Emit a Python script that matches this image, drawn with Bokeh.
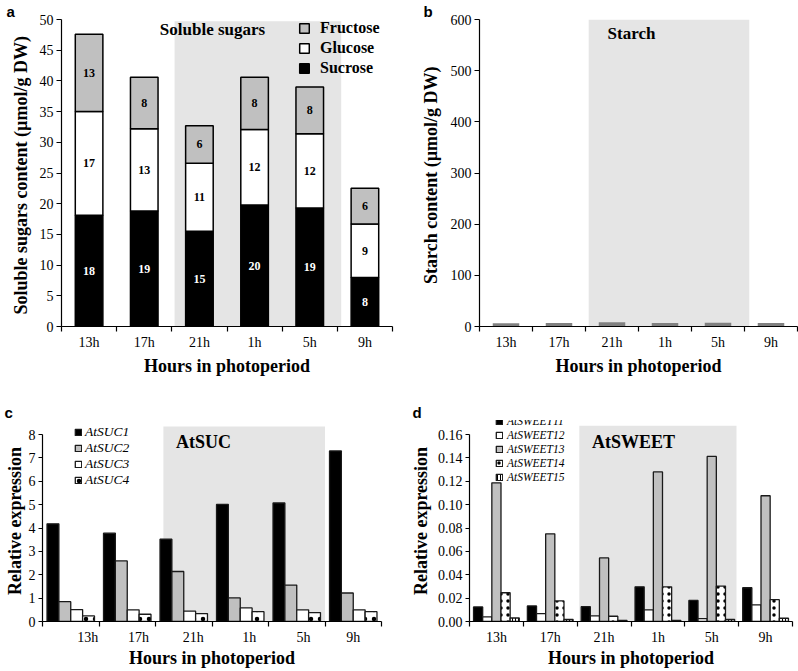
import numpy as np
from bokeh.plotting import figure
from bokeh.models import (ColumnDataSource, FixedTicker, Legend, LegendItem, Label,
                          BoxAnnotation, NumeralTickFormatter, SingleIntervalTicker, Range1d)
from bokeh.layouts import column, row
from bokeh.embed import file_html
from bokeh.resources import INLINE
from bokeh.core.properties import value

# ---------------- data ----------------
hours = ["13h", "17h", "21h", "1h", "5h", "9h"]
dark_first, dark_last = "21h", "5h"

sugar_names = ["Sucrose", "Glucose", "Fructose"]
sucrose = [18.1, 18.8, 15.5, 19.8, 19.3, 8.0]
glucose = [16.9, 13.4, 11.1, 12.3, 12.1, 8.7]
fructose = [12.6, 8.4, 6.1, 8.5, 7.6, 5.8]
sucrose_lbl = ["18", "19", "15", "20", "19", "8"]
glucose_lbl = ["17", "13", "11", "12", "12", "9"]
fructose_lbl = ["13", "8", "6", "8", "8", "6"]

starch = [6.5, 6.8, 8.4, 7.0, 7.5, 6.6]

suc_names = ["AtSUC1", "AtSUC2", "AtSUC3", "AtSUC4"]
suc1 = [4.18, 3.78, 3.52, 5.01, 5.07, 7.30]
suc2 = [0.85, 2.59, 2.14, 1.01, 1.56, 1.22]
suc3 = [0.51, 0.50, 0.44, 0.58, 0.50, 0.50]
suc4 = [0.24, 0.31, 0.34, 0.42, 0.38, 0.42]

sweet_names = ["AtSWEET11", "AtSWEET12", "AtSWEET13", "AtSWEET14", "AtSWEET15"]
sweet11 = [0.0125, 0.0133, 0.0127, 0.0297, 0.0180, 0.0289]
sweet12 = [0.0040, 0.0068, 0.0048, 0.0099, 0.0025, 0.0142]
sweet13 = [0.1187, 0.0750, 0.0544, 0.1280, 0.1413, 0.1076]
sweet14 = [0.0246, 0.0176, 0.0045, 0.0297, 0.0303, 0.0187]
sweet15 = [0.0030, 0.0017, 0.0010, 0.0010, 0.0017, 0.0028]

# ---------------- style ----------------
SERIF = "Liberation Serif"
SANS = "Liberation Sans"
GRAY = "#c0c0c0"
SHADE = "#e5e5e5"
N = len(hours)
centers = [i + 0.5 for i in range(N)]
i0 = hours.index(dark_first)
i1 = hours.index(dark_last) + 1


def make_fig(w, h, ymax, mbl, mbr, mbt, mbb, letter, letter_off):
    p = figure(width=w, height=h, x_range=Range1d(0, N), y_range=Range1d(0, ymax),
               output_backend="svg", toolbar_location=None,
               min_border_left=mbl, min_border_right=mbr, min_border_top=mbt,
               min_border_bottom=mbb)
    p.outline_line_color = None
    p.xgrid.visible = False
    p.ygrid.visible = False
    # panel letter drawn as the figure title (outside the data frame)
    p.title.text = letter
    p.title.align = "left"
    p.title.offset = letter_off
    p.title.standoff = 0
    p.title.text_font = SANS
    p.title.text_font_style = "bold"
    p.title.text_font_size = "15px"
    p.title.text_color = "black"
    return p


def style_axes(p, ytitle, yint, ybounds, label_pos, yfmt=None, ylab_standoff=3,
               ytitle_standoff=6, ytick_out=5, xlab_standoff=3, xtitle_standoff=3):
    xa = p.xaxis[0]
    ya = p.yaxis[0]
    xa.ticker = FixedTicker(ticks=label_pos, minor_ticks=list(range(N + 1)))
    xa.major_label_overrides = dict(zip(label_pos, hours))
    xa.major_tick_out = 0
    xa.major_tick_in = 0
    xa.minor_tick_out = 5
    xa.minor_tick_in = 0
    xa.minor_tick_line_color = "black"
    xa.minor_tick_line_width = 1.2
    xa.axis_label = "Hours in photoperiod"
    xa.major_label_standoff = xlab_standoff
    xa.axis_label_standoff = xtitle_standoff
    ya.ticker = SingleIntervalTicker(interval=yint, num_minor_ticks=0)
    ya.bounds = ybounds
    if yfmt:
        ya.formatter = NumeralTickFormatter(format=yfmt)
    ya.major_tick_out = ytick_out
    ya.major_tick_in = 0
    ya.minor_tick_out = 0
    ya.minor_tick_in = 0
    ya.axis_label = ytitle
    ya.major_label_standoff = ylab_standoff
    ya.axis_label_standoff = ytitle_standoff
    for ax in (xa, ya):
        ax.axis_line_color = "black"
        ax.axis_line_width = 1.2
        ax.major_tick_line_color = "black"
        ax.major_tick_line_width = 1.2
        ax.major_label_text_font = SERIF
        ax.major_label_text_font_size = "14px"
        ax.major_label_text_color = "black"
        ax.axis_label_text_font = SERIF
        ax.axis_label_text_font_style = "bold"
        ax.axis_label_text_font_size = "18px"
        ax.axis_label_text_color = "black"


def shade(p, left_off, right_off, top):
    p.add_layout(BoxAnnotation(left=i0 + left_off, right=i1 + right_off, bottom=0, top=top,
                               fill_color=SHADE, fill_alpha=1, line_color=None,
                               level="underlay"))


def panel_text(p, txt, sx, sy, size="18px", font=SERIF):
    p.add_layout(Label(x=sx, y=sy, x_units="screen", y_units="screen", text=txt,
                       text_font=font, text_font_style="bold", text_font_size=size,
                       text_align="center", text_baseline="middle", text_color="black"))


def make_legend(items, x, y, glyph, lh, font_size, style, standoff, line_h=1.2, spacing=0):
    return Legend(items=items, location=(x, y), glyph_width=glyph, glyph_height=glyph,
                  label_height=lh, spacing=spacing, padding=0, margin=0,
                  label_standoff=standoff, label_text_font=SERIF,
                  label_text_font_style=style, label_text_font_size=font_size,
                  label_text_line_height=line_h,
                  label_text_color="black", border_line_color=None,
                  background_fill_alpha=0)


# ---------------- panel a ----------------
pa = make_fig(399, 380, 50, 61, 7, 14, 54, "a", -55)
style_axes(pa, "Soluble sugars content (\u00b5mol/g  DW)", 5, (0, 50), centers)
shade(pa, 0.05, 0.07, 49.7)
src_a = ColumnDataSource(dict(x=centers, Sucrose=sucrose, Glucose=glucose, Fructose=fructose))
rs_a = pa.vbar_stack(sugar_names, x="x", width=0.5, source=src_a,
                     fill_color=["black", "white", GRAY], line_color="black", line_width=1.5)
s = np.array(sucrose)
g = np.array(glucose)
f = np.array(fructose)
lab_src = ColumnDataSource(dict(
    x=centers * 3,
    y=list(s / 2) + list(s + g / 2) + list(s + g + f / 2),
    t=sucrose_lbl + glucose_lbl + fructose_lbl,
    c=["white"] * N + ["black"] * N + ["black"] * N))
pa.text(x="x", y="y", text="t", text_color="c", source=lab_src, text_align="center",
        text_baseline="middle", text_font=value(SERIF), text_font_style="bold",
        text_font_size="12px")
leg_a = make_legend([LegendItem(label=sugar_names[k], renderers=[rs_a[k]]) for k in (2, 1, 0)],
                    237, 249, 12, 18, "16px", "bold", 10, 1.0, 2)
pa.add_layout(leg_a)
panel_text(pa, "Soluble sugars", 151, 297, "17px")

# ---------------- panel b ----------------
pb = make_fig(399, 380, 600, 80, 1, 14, 53, "b", -56)
style_axes(pb, "Starch content (\u00b5mol/g  DW)", 100, (0, 600), centers, ytitle_standoff=7)
shade(pb, 0.06, 0.09, 600)
pb.vbar(x=centers, top=starch, width=0.5, fill_color="#808080", line_color=None)
panel_text(pb, "Starch", 152, 293, "17px")

# ---------------- panel c ----------------
c_label_pos = [i + o for i, o in zip(range(N), [0.8, 0.7, 0.67, 0.66, 0.62, 0.5])]
pc = make_fig(399, 290, 8.6, 42, 18, 40, 48, "c", -38)
style_axes(pc, "Relative expression", 1, (0, 8), c_label_pos, ylab_standoff=3,
           ytitle_standoff=1, ytick_out=4, xlab_standoff=3, xtitle_standoff=0)
shade(pc, 0.14, 0.0, 8.34)
wc = 0.21
suc_series = [suc1, suc2, suc3, suc4]
suc_fill = ["black", GRAY, "white", "white"]
suc_hatch = [None, None, None, "dot"]
rc = []
for k, vals in enumerate(suc_series):
    xs = [c + (k - 1.5) * wc for c in centers]
    kw = {}
    if suc_hatch[k]:
        kw = dict(hatch_pattern=suc_hatch[k], hatch_scale=9, hatch_color="black",
                  hatch_weight=1)
    rc.append(pc.vbar(x=xs, top=vals, width=wc, fill_color=suc_fill[k],
                      line_color="#1a1a1a", line_width=1.3, **kw))
leg_c = make_legend([LegendItem(label=n, renderers=[r]) for n, r in zip(suc_names, rc)],
                    32, 133, 8, 16, "13.5px", "italic", 3, 1.0)
pc.add_layout(leg_c)
panel_text(pc, "AtSUC", 161, 180, "18px")

# ---------------- panel d ----------------
pd_ = make_fig(399, 290, 0.172, 70, 6, 40, 48, "d", -57)
style_axes(pd_, "Relative expression", 0.02, (0, 0.16), centers, yfmt="0.00",
           ylab_standoff=3, ytitle_standoff=4, ytick_out=4, xlab_standoff=3,
           xtitle_standoff=0)
shade(pd_, 0.04, -0.04, 0.1675)
wd = 0.17
sweet_series = [sweet11, sweet12, sweet13, sweet14, sweet15]
sweet_fill = ["black", "white", GRAY, "white", "white"]
sweet_hatch = [None, None, None, "dot", "vertical_line"]
sweet_hscale = [None, None, None, 7, 3]
rd = []
for k, vals in enumerate(sweet_series):
    xs = [c + (k - 2) * wd for c in centers]
    kw = {}
    if sweet_hatch[k]:
        kw = dict(hatch_pattern=sweet_hatch[k], hatch_scale=sweet_hscale[k],
                  hatch_color="black", hatch_weight=1)
    rd.append(pd_.vbar(x=xs, top=vals, width=wd, fill_color=sweet_fill[k],
                       line_color="#1a1a1a", line_width=1.3, **kw))
leg_d = make_legend([LegendItem(label=n, renderers=[r]) for n, r in zip(sweet_names, rd)],
                    26, 137, 8, 14, "11.5px", "italic", 4, 1.0)
pd_.add_layout(leg_d)
panel_text(pd_, "AtSWEET", 164, 180, "18px")

layout = column(row(pa, pb), row(pc, pd_))
open("out.html", "w").write(file_html(layout, INLINE))
